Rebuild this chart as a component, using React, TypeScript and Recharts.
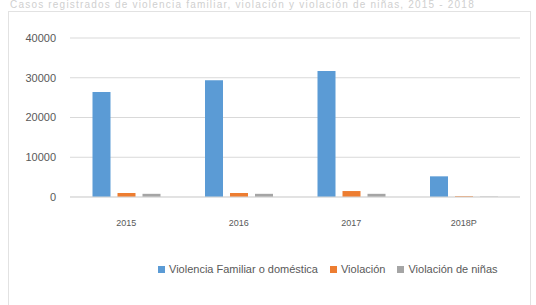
import React from 'react';
import { BarChart, Bar, XAxis, YAxis, CartesianGrid, Legend } from 'recharts';

// values (approximate)
const years = ['2015', '2016', '2017', '2018P'];
const violenciaFamiliar = [26400, 29400, 31700, 5200];
const violacion = [1000, 1000, 1500, 200];
const violacionNina = [800, 800, 800, 100];
const yTicks = [0, 10000, 20000, 30000, 40000];

const seriesNames = ['Violencia Familiar o doméstica', 'Violación', 'Violación de niñas'];
const seriesColors = ['#5b9bd5', '#ed7d31', '#a5a5a5'];

const data = years.map((year, i) => ({
  year,
  familiar: violenciaFamiliar[i],
  violacion: violacion[i],
  nina: violacionNina[i],
}));

const FONT = '"Liberation Sans", "DejaVu Sans", sans-serif';

// legend kept in series order (recharts 3 sorts by name otherwise)
const renderLegend = () => (
  <div style={{ display: 'flex', gap: 12, whiteSpace: 'nowrap', fontSize: 11, color: '#595959', fontFamily: FONT }}>
    {seriesNames.map((name, i) => (
      <span key={name} style={{ display: 'flex', alignItems: 'center', gap: 4 }}>
        <span style={{ width: 7, height: 7, background: seriesColors[i], display: 'inline-block' }} />
        {name}
      </span>
    ))}
  </div>
);

export default function App() {
  return (
    <div style={{ position: 'absolute', left: 0, top: 0, width: 536, height: 305, background: '#fff', overflow: 'hidden', fontFamily: FONT }}>
      {/* faint title line at the very top */}
      <div style={{ position: 'absolute', top: 0, left: 10, fontSize: 10, lineHeight: '10px', color: '#cfcfcf', whiteSpace: 'nowrap', letterSpacing: 1.2 }}>
        Casos registrados de violencia familiar, violación y violación de niñas, 2015 - 2018
      </div>
      {/* chart frame */}
      <div style={{ position: 'absolute', left: 8, top: 11, width: 521, height: 300, border: '1px solid #e2e2e2', borderBottom: 'none' }} />
      <BarChart
        width={536}
        height={305}
        data={data}
        margin={{ top: 38, right: 16, bottom: 66, left: 0 }}
        barCategoryGap="20%"
        barGap={7}
        style={{ position: 'absolute', left: 0, top: 0 }}
      >
        <CartesianGrid vertical={false} stroke="#d9d9d9" />
        <XAxis
          dataKey="year"
          axisLine={{ stroke: '#d9d9d9' }}
          tickLine={false}
          tick={{ fontSize: 9, fill: '#595959', fontFamily: FONT }}
          tickMargin={17}
          height={30}
        />
        <YAxis
          domain={[0, 40000]}
          ticks={yTicks}
          axisLine={false}
          tickLine={false}
          width={70}
          tick={{ fontSize: 11, fill: '#595959', fontFamily: FONT }}
          tickMargin={8}
        />
        <Legend
          content={renderLegend}
          wrapperStyle={{ top: 263, left: 158, width: 378 }}
        />
        <Bar dataKey="familiar" name={seriesNames[0]} fill={seriesColors[0]} isAnimationActive={false} />
        <Bar dataKey="violacion" name={seriesNames[1]} fill={seriesColors[1]} isAnimationActive={false} />
        <Bar dataKey="nina" name={seriesNames[2]} fill={seriesColors[2]} isAnimationActive={false} />
      </BarChart>
    </div>
  );
}
